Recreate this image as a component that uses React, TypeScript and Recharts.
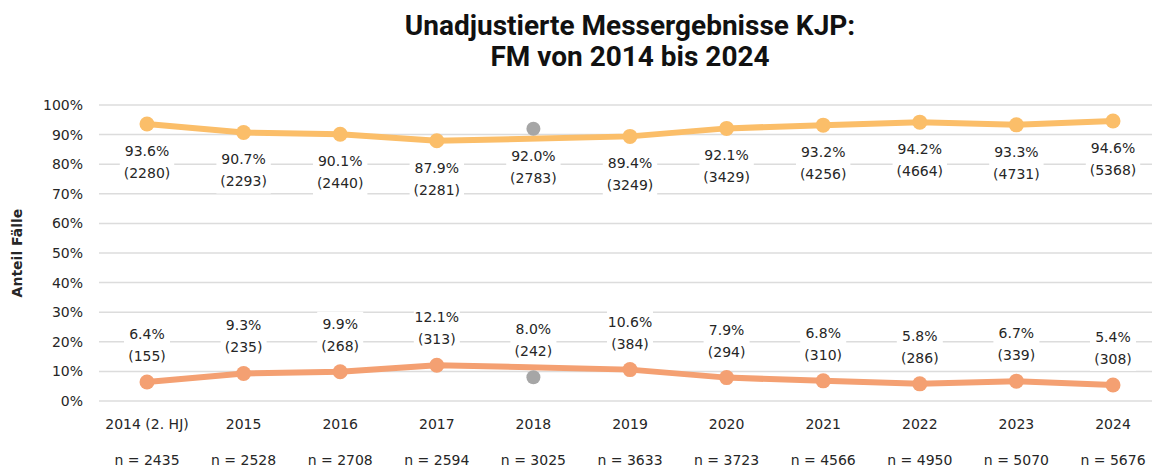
import React from 'react';
import { LineChart, Line, XAxis, YAxis, CartesianGrid, LabelList } from 'recharts';

const categories = ['2014 (2. HJ)', '2015', '2016', '2017', '2018', '2019', '2020', '2021', '2022', '2023', '2024'];
const sampleSizes = [2435, 2528, 2708, 2594, 3025, 3633, 3723, 4566, 4950, 5070, 5676];
const shareHigh = [93.6, 90.7, 90.1, 87.9, 92.0, 89.4, 92.1, 93.2, 94.2, 93.3, 94.6];
const countHigh = [2280, 2293, 2440, 2281, 2783, 3249, 3429, 4256, 4664, 4731, 5368];
const shareLow = [6.4, 9.3, 9.9, 12.1, 8.0, 10.6, 7.9, 6.8, 5.8, 6.7, 5.4];
const countLow = [155, 235, 268, 313, 242, 384, 294, 310, 286, 339, 308];
const offTrendCategories = ['2018'];
const yTicks = [0, 10, 20, 30, 40, 50, 60, 70, 80, 90, 100];

const COLOR_HIGH = '#FBBE69';
const COLOR_LOW = '#F4A072';
const COLOR_OFF = '#A6A6A6';
const TEXT = '#262626';
const FONT = '"DejaVu Sans", sans-serif';

const data = categories.map((c, i) => {
  const off = offTrendCategories.includes(c);
  return {
    category: c,
    n: sampleSizes[i],
    highAll: shareHigh[i],
    lowAll: shareLow[i],
    highLine: off ? null : shareHigh[i],
    lowLine: off ? null : shareLow[i],
    highOff: off ? shareHigh[i] : null,
    lowOff: off ? shareLow[i] : null,
    highLabel: `${shareHigh[i].toFixed(1)}%|(${countHigh[i]})`,
    lowLabel: `${shareLow[i].toFixed(1)}%|(${countLow[i]})`,
  };
});

const makeLabel = (firstOffset: number) => (props: any) => {
  const { x, y, value } = props;
  if (x == null || y == null || value == null) return null;
  const [a, b] = String(value).split('|');
  const c1 = y + firstOffset;
  const c2 = c1 + 22;
  const w = Math.max(a.length, b.length) * 8.4 + 4;
  return (
    <g>
      <rect x={x - w / 2} y={c1 - 12} width={w} height={46} fill="#ffffff" />
      <text x={x} y={c1} dy="0.35em" textAnchor="middle" fontSize={14} fontFamily={FONT} fill={TEXT}>{a}</text>
      <text x={x} y={c2} dy="0.35em" textAnchor="middle" fontSize={14} fontFamily={FONT} fill={TEXT}>{b}</text>
    </g>
  );
};

const renderHighLabel = makeLabel(27);
const renderLowLabel = makeLabel(-48);

const XTick = (props: any) => {
  const { x, y, payload } = props;
  const idx = payload.index;
  return (
    <g>
      <text x={x} y={y} dy={28} textAnchor="middle" fontSize={14} fontFamily={FONT} fill={TEXT}>{payload.value}</text>
      <text x={x} y={y} dy={64} textAnchor="middle" fontSize={14} fontFamily={FONT} fill={TEXT}>{`n = ${sampleSizes[idx]}`}</text>
    </g>
  );
};

export default function App() {
  return (
    <div style={{ position: 'fixed', left: 0, top: 0, width: 1152, height: 468, overflow: 'hidden', background: '#fff' }}>
      <div
        style={{
          position: 'absolute', left: 280, top: 10, width: 700, textAlign: 'center',
          fontFamily: 'Roboto, sans-serif', fontWeight: 700, fontSize: 28, lineHeight: '31px', color: '#111',
        }}
      >
        Unadjustierte Messergebnisse KJP:<br />FM von 2014 bis 2024
      </div>
      <div
        style={{
          position: 'absolute', left: 17, top: 253, transform: 'translate(-50%, -50%) rotate(-90deg)',
          whiteSpace: 'nowrap', fontFamily: FONT, fontWeight: 700, fontSize: 14, color: TEXT,
        }}
      >
        Anteil Fälle
      </div>
      <div style={{ position: 'absolute', left: 0, top: 0 }}>
        <LineChart width={1175} height={468} data={data} margin={{ top: 105, right: 14, left: 0, bottom: 0 }}>
          <CartesianGrid vertical={false} stroke="#DCDCDC" strokeWidth={1.5} />
          <XAxis
            dataKey="category"
            axisLine={false}
            tickLine={false}
            tickSize={0}
            tickMargin={0}
            height={67}
            interval={0}
            padding={{ left: 48, right: 48 }}
            tick={<XTick />}
          />
          <YAxis
            domain={[0, 100]}
            ticks={yTicks}
            axisLine={false}
            tickLine={false}
            tickSize={0}
            tickMargin={16}
            width={99}
            tickFormatter={(v: number) => `${v}%`}
            tick={{ fontSize: 14, fontFamily: FONT, fill: TEXT }}
          />
          <Line dataKey="highAll" stroke="none" dot={false} activeDot={false} isAnimationActive={false}>
            <LabelList dataKey="highLabel" content={renderHighLabel} />
          </Line>
          <Line dataKey="lowAll" stroke="none" dot={false} activeDot={false} isAnimationActive={false}>
            <LabelList dataKey="lowLabel" content={renderLowLabel} />
          </Line>
          <Line
            dataKey="highLine"
            stroke={COLOR_HIGH}
            strokeWidth={6}
            connectNulls
            dot={{ r: 7.5, fill: COLOR_HIGH, stroke: 'none' }}
            activeDot={false}
            isAnimationActive={false}
          />
          <Line
            dataKey="lowLine"
            stroke={COLOR_LOW}
            strokeWidth={6}
            connectNulls
            dot={{ r: 7.5, fill: COLOR_LOW, stroke: 'none' }}
            activeDot={false}
            isAnimationActive={false}
          />
          <Line dataKey="highOff" stroke="none" dot={{ r: 7, fill: COLOR_OFF, stroke: 'none' }} activeDot={false} isAnimationActive={false} />
          <Line dataKey="lowOff" stroke="none" dot={{ r: 7, fill: COLOR_OFF, stroke: 'none' }} activeDot={false} isAnimationActive={false} />
        </LineChart>
      </div>
    </div>
  );
}
